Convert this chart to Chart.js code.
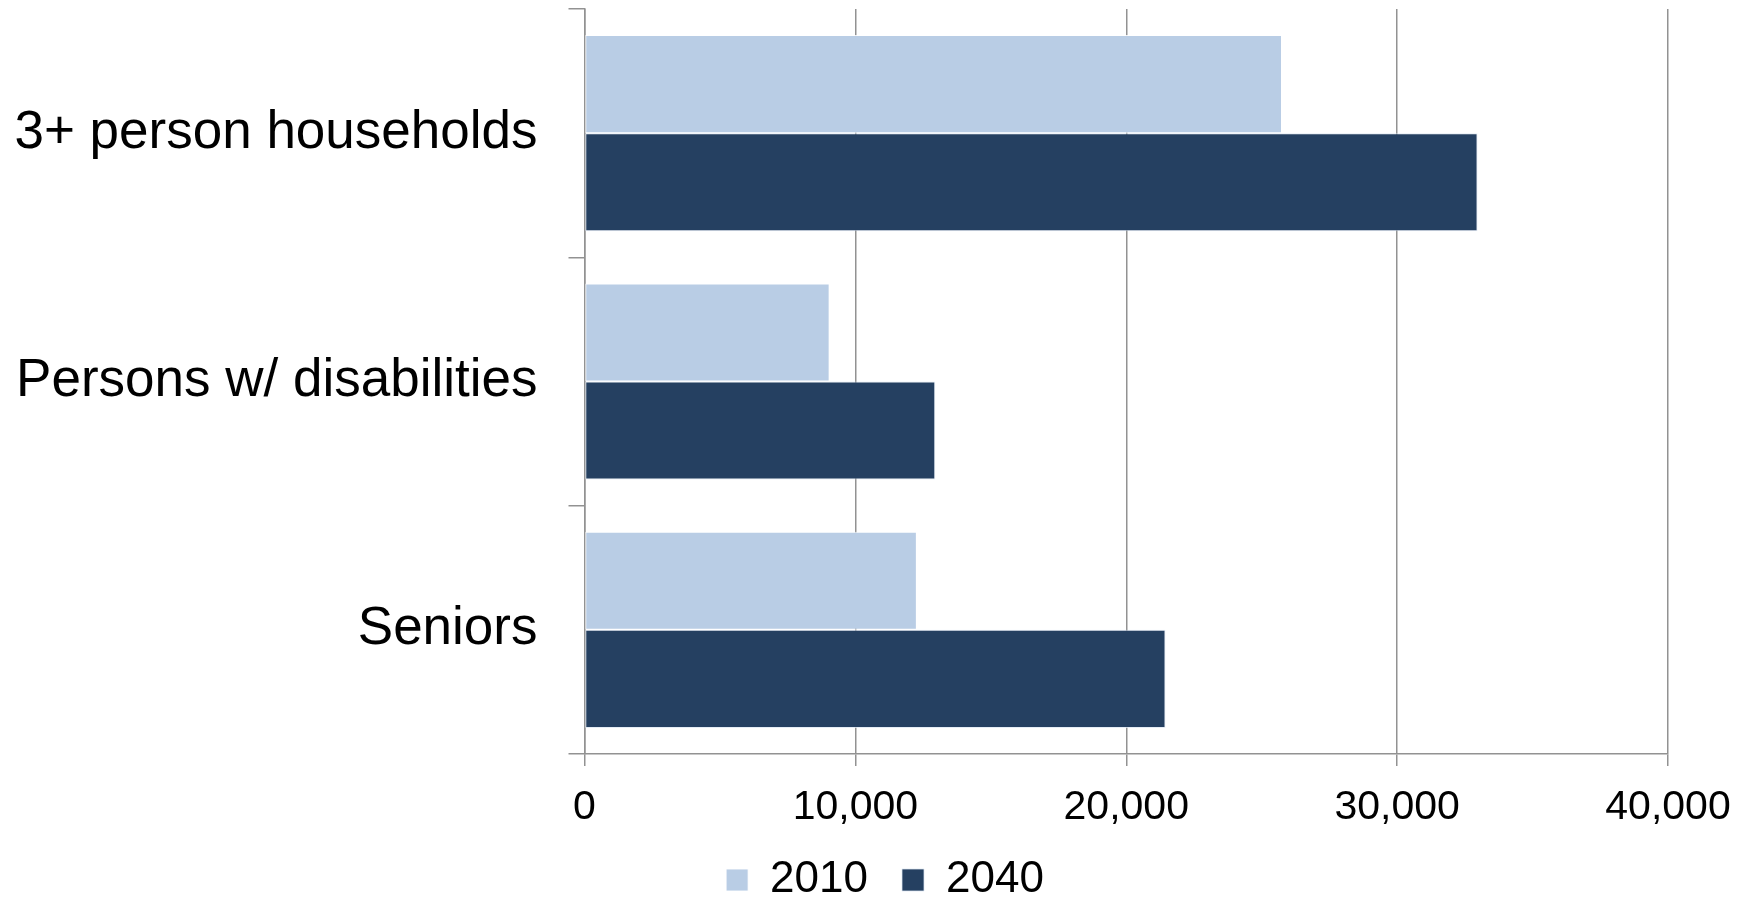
<!DOCTYPE html>
<html>
<head>
<meta charset="utf-8">
<script src="https://cdn.jsdelivr.net/npm/chart.js@4/dist/chart.umd.min.js"></script>
<style>
  html, body { margin: 0; padding: 0; background: #fff; }
  #wrap { width: 1742px; height: 899px; position: relative; }
</style>
</head>
<body>
<div id="wrap"><canvas id="c"></canvas></div>
<script>
const categories = ['3+ person households', 'Persons w/ disabilities', 'Seniors'];
const series2010 = [25750, 9050, 12270];
const series2040 = [32970, 12950, 21450];
const seriesNames = ['2010', '2040'];
const xTicks = [0, 10000, 20000, 30000, 40000];

const FONT = '"Liberation Sans", Arial, sans-serif';
const GRID = '#929292';

const legendShift = {
  id: 'legendShift',
  beforeLayout(chart) {
    const lg = chart.legend;
    if (!lg || lg._patched) return;
    const orig = lg.fit;
    lg.fit = function () { orig.call(this); this.height = 44; };
    lg._patched = true;
  },
  afterLayout(chart) {
    const lg = chart.legend;
    if (!lg) return;
    lg.left += 51; lg.right += 51;
    lg.top -= 31;
  }
};

new Chart(document.getElementById('c'), {
  type: 'bar',
  data: {
    labels: categories,
    datasets: [
      { label: seriesNames[0], data: series2010, backgroundColor: '#B9CDE5',
        borderColor: 'rgba(255,255,255,0.85)', borderWidth: 1, borderSkipped: false },
      { label: seriesNames[1], data: series2040, backgroundColor: '#254061',
        borderColor: 'rgba(220,230,242,0.75)', borderWidth: 1, borderSkipped: false }
    ]
  },
  plugins: [legendShift],
  options: {
    indexAxis: 'y',
    responsive: true,
    maintainAspectRatio: false,
    animation: false,
    categoryPercentage: 0.79,
    barPercentage: 1.0,
    layout: { padding: { top: 9, left: 0, right: 74, bottom: 0 } },
    scales: {
      x: {
        min: 0, max: 40000,
        afterBuildTicks: (s) => { s.ticks = xTicks.map(v => ({ value: v })); },
        afterFit: (s) => { s.height = 101; s.paddingLeft = 0; s.paddingRight = 0; },
        grid: { color: GRID, lineWidth: 1.5, tickLength: 12, drawOnChartArea: true },
        border: { color: GRID, width: 1.5 },
        ticks: {
          padding: 17,
          color: '#000',
          font: { family: FONT, size: 41 },
          callback: (v) => Number(v).toLocaleString('en-US')
        }
      },
      y: {
        afterFit: (s) => { s.width = 584.5; s.paddingTop = 0; s.paddingBottom = 0; },
        grid: { color: GRID, lineWidth: 1.5, tickLength: 16, drawOnChartArea: false, offset: true },
        border: { color: GRID, width: 1.5 },
        ticks: {
          padding: 31,
          color: '#000',
          font: { family: FONT, size: 53 }
        }
      }
    },
    plugins: {
      legend: {
        position: 'bottom',
        align: 'center',
        labels: {
          color: '#000',
          font: { family: FONT, size: 44 },
          boxWidth: 22, boxHeight: 22,
          padding: 34
        }
      },
      tooltip: { enabled: false }
    }
  }
});
</script>
</body>
</html>
